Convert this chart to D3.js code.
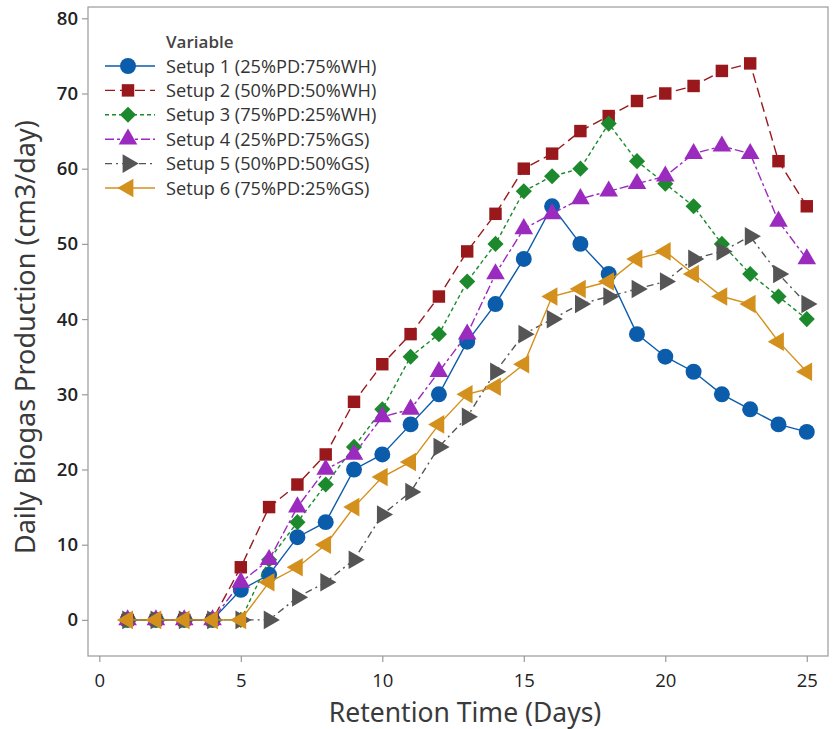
<!DOCTYPE html>
<html>
<head>
<meta charset="utf-8">
<script src="https://cdn.jsdelivr.net/npm/d3@7"></script>
<style>
  body { margin: 0; background: #fff; }
  svg { display: block; }
</style>
</head>
<body>
<svg id="chart" width="838" height="729"></svg>
<script>
// Retention time (days)
const days = [1,2,3,4,5,6,7,8,9,10,11,12,13,14,15,16,17,18,19,20,21,22,23,24,25];

// Daily biogas production (cm3/day) per setup
const setup1 = [0,0,0,0,4,6,11,13,20,22,26,30,37,42,48,55,50,46,38,35,33,30,28,26,25];
const setup2 = [0,0,0,0,7,15,18,22,29,34,38,43,49,54,60,62,65,67,69,70,71,73,74,61,55];
const setup3 = [0,0,0,0,0,8,13,18,23,28,35,38,45,50,57,59,60,66,61,58,55,50,46,43,40];
const setup4 = [0,0,0,0,5,8,15,20,22,27,28,33,38,46,52,54,56,57,58,59,62,63,62,53,48];
const setup5 = [0,0,0,0,0,0,3,5,8,14,17,23,27,33,38,40,42,43,44,45,48,49,51,46,42];
const setup6 = [0,0,0,0,0,5,7,10,15,19,21,26,30,31,34,43,44,45,48,49,46,43,42,37,33];

const seriesNames = [
  "Setup 1 (25%PD:75%WH)",
  "Setup 2 (50%PD:50%WH)",
  "Setup 3 (75%PD:25%WH)",
  "Setup 4 (25%PD:75%GS)",
  "Setup 5 (50%PD:50%GS)",
  "Setup 6 (75%PD:25%GS)"
];
const seriesValues = [setup1, setup2, setup3, setup4, setup5, setup6];

const xTicks = [0,5,10,15,20,25];
const yTicks = [0,10,20,30,40,50,60,70,80];

// Visual style per series
const styles = [
  { color: "#0b5cab", dash: null,        symbol: d3.symbolCircle,   size: 200, rotate: 0 },
  { color: "#99181c", dash: "10,5",      symbol: d3.symbolSquare,   size: 155, rotate: 0 },
  { color: "#1c8a2c", dash: "4,3",       symbol: d3.symbolSquare,   size: 130, rotate: 45 },
  { color: "#9b2bbf", dash: "9,3,3,3",   symbol: d3.symbolTriangle, size: 150, rotate: 0 },
  { color: "#555555", dash: "7,4,2,4",   symbol: d3.symbolTriangle, size: 150, rotate: 90 },
  { color: "#d4901c", dash: null,        symbol: d3.symbolTriangle, size: 150, rotate: -90 }
];

const svg = d3.select("#chart");

const x = d3.scaleLinear().domain([-0.4, 25.75]).range([88, 828]);
const y = d3.scaleLinear().domain([-4.8, 81.5]).range([656, 7]);

// Frame
svg.append("rect")
  .attr("x", x.range()[0]).attr("y", y.range()[1])
  .attr("width", x.range()[1] - x.range()[0])
  .attr("height", y.range()[0] - y.range()[1])
  .attr("fill", "none").attr("stroke", "#9a9a9a").attr("stroke-width", 1.2);

// Y axis
const yAxis = svg.append("g")
  .attr("transform", `translate(${x.range()[0]},0)`)
  .call(d3.axisLeft(y).tickValues(yTicks).tickSize(6).tickPadding(4));
yAxis.select(".domain").remove();
yAxis.selectAll(".tick line").attr("stroke", "#9a9a9a").attr("stroke-width", 1.2);
yAxis.selectAll(".tick text")
  .attr("font-family", "'Open Sans', sans-serif")
  .attr("font-size", 18.5).attr("font-weight", 600).attr("fill", "#222");

// X axis
const xAxis = svg.append("g")
  .attr("transform", `translate(0,${y.range()[0]})`)
  .call(d3.axisBottom(x).tickValues(xTicks).tickSize(6).tickPadding(12));
xAxis.select(".domain").remove();
xAxis.selectAll(".tick line").attr("stroke", "#9a9a9a").attr("stroke-width", 1.2);
xAxis.selectAll(".tick text")
  .attr("font-family", "'Open Sans', sans-serif")
  .attr("font-size", 18.5).attr("font-weight", 500).attr("fill", "#222");

// Axis titles
svg.append("text")
  .attr("x", (x(0) + x(25)) / 2 + 12).attr("y", 721.5)
  .attr("text-anchor", "middle")
  .attr("font-family", "'Noto Sans', sans-serif")
  .attr("font-size", 26.5).attr("fill", "#3a3a3a")
  .text("Retention Time (Days)");

svg.append("text")
  .attr("transform", `translate(35,${(y(0) + y(80)) / 2 + 18}) rotate(-90)`)
  .attr("text-anchor", "middle")
  .attr("font-family", "'Noto Sans', sans-serif")
  .attr("font-size", 27).attr("fill", "#3a3a3a")
  .text("Daily Biogas Production (cm3/day)");

// Series lines and markers
const line = d3.line().x(d => x(d[0])).y(d => y(d[1]));

seriesValues.forEach((vals, i) => {
  const st = styles[i];
  const pts = days.map((d, k) => [d, vals[k]]);
  const g = svg.append("g").attr("class", "series");
  g.append("path")
    .datum(pts)
    .attr("d", line)
    .attr("fill", "none")
    .attr("stroke", st.color)
    .attr("stroke-width", 1.4)
    .attr("stroke-dasharray", st.dash);
  g.selectAll("path.marker")
    .data(pts)
    .join("path")
    .attr("class", "marker")
    .attr("d", d3.symbol().type(st.symbol).size(st.size))
    .attr("transform", d => `translate(${x(d[0])},${y(d[1])}) rotate(${st.rotate})`)
    .attr("fill", st.color);
});

// Legend
const legend = svg.append("g").attr("transform", "translate(105,0)");
legend.append("text")
  .attr("x", 61).attr("y", 48)
  .attr("font-family", "'Open Sans', sans-serif")
  .attr("font-size", 17).attr("font-weight", 600).attr("fill", "#444")
  .text("Variable");

seriesNames.forEach((name, i) => {
  const st = styles[i];
  const cy = 66 + i * 24.4;
  legend.append("line")
    .attr("x1", 0).attr("x2", 50).attr("y1", cy).attr("y2", cy)
    .attr("stroke", st.color).attr("stroke-width", 1.4)
    .attr("stroke-dasharray", st.dash);
  legend.append("path")
    .attr("d", d3.symbol().type(st.symbol).size(st.size)())
    .attr("transform", `translate(23,${cy}) rotate(${st.rotate})`)
    .attr("fill", st.color);
  legend.append("text")
    .attr("x", 61).attr("y", cy + 6.5)
    .attr("font-family", "'Open Sans', sans-serif")
    .attr("font-size", 18.2).attr("fill", "#333")
    .text(name);
});
</script>
</body>
</html>
